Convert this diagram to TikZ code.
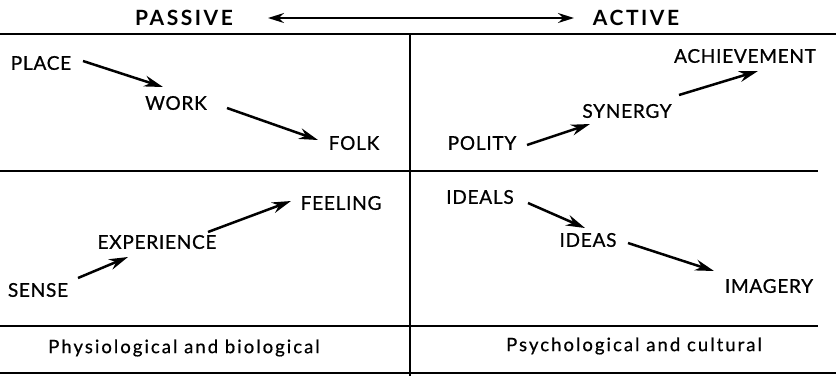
\documentclass[tikz,border=0pt]{standalone}
\usepackage{fontspec}
\setmainfont{Lato}
\usetikzlibrary{arrows.meta}
\begin{document}
\begin{tikzpicture}[x=1pt,y=-1pt,
  term/.style={inner sep=1pt,font=\addfontfeatures{LetterSpace=4,FakeBold=0.8}\fontsize{19}{21}\selectfont},
  head/.style={inner sep=1pt,font=\bfseries\addfontfeatures{LetterSpace=12}\fontsize{21}{23}\selectfont},
  foot/.style={inner sep=1pt,font=\addfontfeatures{LetterSpace=11,FakeBold=0.6}\fontsize{18.5}{20}\selectfont},
  rule/.style={line width=1.8pt},
  flow/.style={line width=2.5pt,-{Stealth[length=19pt,width=11pt]}},
  axis/.style={line width=1.8pt,{Stealth[length=16pt,width=10pt]}-{Stealth[length=16pt,width=10pt]}}]
\useasboundingbox (0,0) rectangle (836,376);
% rules
\coordinate (tl) at (0,34); \coordinate (tr) at (836,34);
\coordinate (vt) at (410,34); \coordinate (vb) at (410,376);
\coordinate (ml) at (0,171); \coordinate (mr) at (818,171);
\coordinate (fl) at (0,326); \coordinate (fr) at (818,326);
\coordinate (bl) at (0,373); \coordinate (br) at (836,373);
\draw[rule] (tl) -- (tr);
\draw[rule] (vt) -- (vb);
\draw[rule] (ml) -- (mr);
\draw[rule] (fl) -- (fr);
\draw[rule] (bl) -- (br);
% header
\node[head] (passive) at (184,18) {PASSIVE};
\node[head] (active) at (636,18) {ACTIVE};
\draw[axis] ([shift={(84,0)}]passive.center) -- ([shift={(-62,0)}]active.center);
% upper left
\node[term] (place) at (41,63) {PLACE};
\node[term] (work) at (176,103) {WORK};
\node[term] (folk) at (354,143) {FOLK};
\draw[flow] ([shift={(42,-2)}]place.center) -- ([shift={(-13,-16)}]work.center);
\draw[flow] ([shift={(51,5)}]work.center) -- ([shift={(-36,-3)}]folk.center);
% upper right
\node[term] (polity) at (482,143) {POLITY};
\node[term] (synergy) at (627,111) {SYNERGY};
\node[term] (achieve) at (745,56) {ACHIEVEMENT};
\draw[flow] ([shift={(45,2)}]polity.center) -- ([shift={(-37,13)}]synergy.center);
\draw[flow] ([shift={(52,-16)}]synergy.center) -- ([shift={(13,15)}]achieve.center);
% lower left
\node[term] (sense) at (38,290) {SENSE};
\node[term] (exper) at (157,242) {EXPERIENCE};
\node[term] (feel) at (341,203) {FEELING};
\draw[flow] ([shift={(40,-12)}]sense.center) -- ([shift={(-29,15)}]exper.center);
\draw[flow] ([shift={(51,-10)}]exper.center) -- ([shift={(-50,-2)}]feel.center);
% lower right
\node[term] (ideals) at (480,197) {IDEALS};
\node[term] (ideas) at (588,240) {IDEAS};
\node[term] (imagery) at (769,286) {IMAGERY};
\draw[flow] ([shift={(48,6)}]ideals.center) -- ([shift={(-3,-12)}]ideas.center);
\draw[flow] ([shift={(40,3)}]ideas.center) -- ([shift={(-55,-15)}]imagery.center);
% footer
\node[foot] (phys) at (184,348) {Physiological and biological};
\node[foot] (psych) at (634,346) {Psychological and cultural};
\end{tikzpicture}
\end{document}
